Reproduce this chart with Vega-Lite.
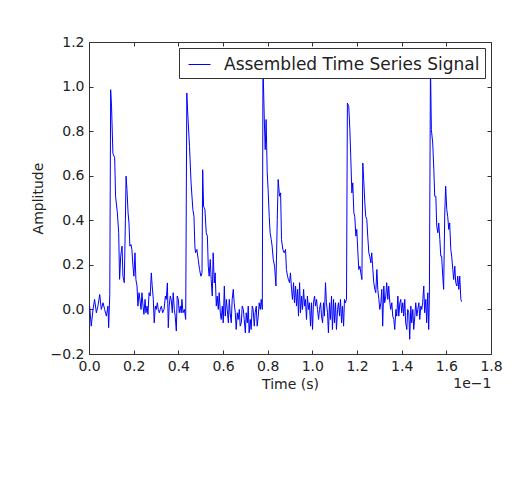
{
  "$schema": "https://vega.github.io/schema/vega-lite/v6.json",
  "width": 402,
  "height": 312,
  "autosize": {"type": "none"},
  "padding": {"left": 89, "top": 42, "right": 33, "bottom": 137},
  "background": "white",
  "config": {
    "view": {"stroke": "#333", "strokeWidth": 1},
    "font": "DejaVu Sans",
    "axis": {"grid": false, "domain": false, "labelFont": "DejaVu Sans", "titleFont": "DejaVu Sans", "labelColor": "#222", "titleColor": "#222", "tickColor": "#333", "titleFontWeight": "normal", "labelFontSize": 14, "titleFontSize": 14},
    "legend": {"orient": "top-right", "offset": 6, "fillColor": "white", "strokeColor": "#333", "strokeWidth": 1, "padding": 5, "labelFont": "DejaVu Sans", "labelFontSize": 17, "labelLimit": 0, "labelColor": "#222", "symbolType": "stroke", "symbolSize": 484, "symbolStrokeWidth": 1, "symbolOffset": 4, "labelOffset": 13, "cornerRadius": 0}
  },
  "data": {"values": [
    {"t":0.003,"amplitude":0.015},{"t":0.010,"amplitude":-0.075},{"t":0.018,"amplitude":0.0},{"t":0.025,"amplitude":0.045},{"t":0.033,"amplitude":-0.015},{"t":0.040,"amplitude":0.015},{"t":0.048,"amplitude":0.067},{"t":0.055,"amplitude":0.0},{"t":0.063,"amplitude":0.03},{"t":0.070,"amplitude":0.0},{"t":0.078,"amplitude":-0.03},{"t":0.085,"amplitude":0.015},{"t":0.088,"amplitude":-0.082},{"t":0.093,"amplitude":0.067},
    {"t":0.097,"amplitude":0.986},{"t":0.101,"amplitude":0.909},{"t":0.107,"amplitude":0.70},{"t":0.115,"amplitude":0.68},{"t":0.119,"amplitude":0.508},{"t":0.127,"amplitude":0.433},{"t":0.133,"amplitude":0.344},{"t":0.137,"amplitude":0.135},{"t":0.142,"amplitude":0.239},{"t":0.148,"amplitude":0.284},{"t":0.152,"amplitude":0.149},{"t":0.158,"amplitude":0.12},{"t":0.163,"amplitude":0.403},{"t":0.166,"amplitude":0.598},{"t":0.170,"amplitude":0.538},{"t":0.175,"amplitude":0.433},{"t":0.179,"amplitude":0.388},{"t":0.183,"amplitude":0.284},{"t":0.188,"amplitude":0.291},{"t":0.192,"amplitude":0.269},{"t":0.197,"amplitude":0.194},{"t":0.201,"amplitude":0.149},{"t":0.206,"amplitude":0.254},{"t":0.210,"amplitude":0.134},{"t":0.215,"amplitude":0.105},{"t":0.219,"amplitude":0.015},{"t":0.224,"amplitude":0.075},{"t":0.228,"amplitude":0.045},{"t":0.233,"amplitude":0.0},{"t":0.237,"amplitude":0.075},{"t":0.242,"amplitude":0.015},{"t":0.246,"amplitude":-0.022},{"t":0.251,"amplitude":0.045},{"t":0.255,"amplitude":-0.015},{"t":0.260,"amplitude":0.015},{"t":0.264,"amplitude":-0.022},{"t":0.269,"amplitude":0.075},{"t":0.274,"amplitude":0.06},{"t":0.279,"amplitude":0.164},{"t":0.283,"amplitude":0.105},{"t":0.288,"amplitude":0.045},{"t":0.292,"amplitude":-0.06},{"t":0.297,"amplitude":0.015},{"t":0.301,"amplitude":0.0},{"t":0.306,"amplitude":0.03},{"t":0.310,"amplitude":0.0},{"t":0.315,"amplitude":-0.015},{"t":0.319,"amplitude":0.0},{"t":0.324,"amplitude":0.015},{"t":0.330,"amplitude":-0.015},{"t":0.336,"amplitude":0.0},{"t":0.342,"amplitude":0.06},{"t":0.346,"amplitude":0.045},{"t":0.351,"amplitude":0.119},{"t":0.355,"amplitude":-0.082},{"t":0.359,"amplitude":0.015},{"t":0.364,"amplitude":0.06},{"t":0.368,"amplitude":0.045},{"t":0.373,"amplitude":-0.015},{"t":0.377,"amplitude":0.075},{"t":0.382,"amplitude":0.0},{"t":0.386,"amplitude":-0.03},{"t":0.391,"amplitude":-0.097},{"t":0.395,"amplitude":0.06},{"t":0.400,"amplitude":0.045},{"t":0.404,"amplitude":-0.015},{"t":0.409,"amplitude":0.015},{"t":0.413,"amplitude":-0.015},{"t":0.416,"amplitude":0.045},{"t":0.421,"amplitude":-0.015},{"t":0.427,"amplitude":0.0},{"t":0.433,"amplitude":-0.045},
    {"t":0.438,"amplitude":0.971},{"t":0.442,"amplitude":0.881},{"t":0.450,"amplitude":0.732},{"t":0.457,"amplitude":0.568},{"t":0.465,"amplitude":0.448},{"t":0.470,"amplitude":0.418},{"t":0.474,"amplitude":0.284},{"t":0.477,"amplitude":0.254},{"t":0.483,"amplitude":0.269},{"t":0.489,"amplitude":0.224},{"t":0.495,"amplitude":0.179},{"t":0.501,"amplitude":0.149},{"t":0.506,"amplitude":0.164},{"t":0.509,"amplitude":0.627},{"t":0.513,"amplitude":0.463},{"t":0.519,"amplitude":0.448},{"t":0.525,"amplitude":0.344},{"t":0.530,"amplitude":0.329},{"t":0.534,"amplitude":0.194},{"t":0.538,"amplitude":0.149},{"t":0.543,"amplitude":0.224},{"t":0.547,"amplitude":0.134},{"t":0.552,"amplitude":0.06},{"t":0.556,"amplitude":0.254},{"t":0.561,"amplitude":0.119},{"t":0.565,"amplitude":0.164},{"t":0.570,"amplitude":0.015},{"t":0.574,"amplitude":0.06},{"t":0.579,"amplitude":0.0},{"t":0.583,"amplitude":0.075},{"t":0.588,"amplitude":-0.015},{"t":0.592,"amplitude":-0.045},{"t":0.597,"amplitude":0.015},{"t":0.601,"amplitude":-0.06},{"t":0.606,"amplitude":0.105},{"t":0.610,"amplitude":-0.03},{"t":0.615,"amplitude":0.045},{"t":0.619,"amplitude":0.0},{"t":0.624,"amplitude":-0.06},{"t":0.628,"amplitude":0.045},{"t":0.632,"amplitude":-0.015},{"t":0.637,"amplitude":-0.06},{"t":0.641,"amplitude":0.045},{"t":0.646,"amplitude":0.09},{"t":0.650,"amplitude":0.03},{"t":0.655,"amplitude":-0.015},{"t":0.659,"amplitude":-0.09},{"t":0.664,"amplitude":-0.015},{"t":0.668,"amplitude":-0.045},{"t":0.673,"amplitude":0.0},{"t":0.677,"amplitude":-0.075},{"t":0.682,"amplitude":-0.06},{"t":0.686,"amplitude":0.015},{"t":0.691,"amplitude":0.0},{"t":0.695,"amplitude":-0.045},{"t":0.700,"amplitude":-0.105},{"t":0.704,"amplitude":-0.015},{"t":0.709,"amplitude":-0.06},{"t":0.713,"amplitude":0.015},{"t":0.717,"amplitude":-0.105},{"t":0.722,"amplitude":-0.045},{"t":0.726,"amplitude":-0.09},{"t":0.731,"amplitude":0.015},{"t":0.735,"amplitude":0.0},{"t":0.740,"amplitude":-0.075},{"t":0.744,"amplitude":-0.015},{"t":0.749,"amplitude":0.015},{"t":0.753,"amplitude":-0.075},{"t":0.758,"amplitude":-0.03},{"t":0.762,"amplitude":0.03},{"t":0.767,"amplitude":0.0},{"t":0.771,"amplitude":0.045},{"t":0.776,"amplitude":0.0},
    {"t":0.779,"amplitude":1.1},{"t":0.785,"amplitude":0.85},{"t":0.789,"amplitude":0.717},{"t":0.793,"amplitude":0.852},{"t":0.798,"amplitude":0.613},{"t":0.802,"amplitude":0.538},{"t":0.807,"amplitude":0.418},{"t":0.811,"amplitude":0.344},{"t":0.816,"amplitude":0.314},{"t":0.820,"amplitude":0.284},{"t":0.825,"amplitude":0.224},{"t":0.831,"amplitude":0.194},{"t":0.837,"amplitude":0.105},{"t":0.843,"amplitude":0.403},{"t":0.847,"amplitude":0.583},{"t":0.853,"amplitude":0.508},{"t":0.858,"amplitude":0.523},{"t":0.862,"amplitude":0.314},{"t":0.868,"amplitude":0.269},{"t":0.874,"amplitude":0.254},{"t":0.880,"amplitude":0.269},{"t":0.884,"amplitude":0.179},{"t":0.889,"amplitude":0.149},{"t":0.893,"amplitude":0.134},{"t":0.898,"amplitude":0.12},{"t":0.902,"amplitude":0.164},{"t":0.907,"amplitude":0.09},{"t":0.911,"amplitude":0.045},{"t":0.916,"amplitude":0.12},{"t":0.920,"amplitude":0.03},{"t":0.925,"amplitude":0.105},{"t":0.929,"amplitude":0.015},{"t":0.934,"amplitude":0.09},{"t":0.938,"amplitude":-0.03},{"t":0.943,"amplitude":0.12},{"t":0.947,"amplitude":-0.015},{"t":0.952,"amplitude":0.06},{"t":0.956,"amplitude":0.0},{"t":0.961,"amplitude":0.09},{"t":0.965,"amplitude":0.015},{"t":0.969,"amplitude":0.045},{"t":0.974,"amplitude":-0.045},{"t":0.978,"amplitude":0.06},{"t":0.983,"amplitude":0.0},{"t":0.987,"amplitude":0.03},{"t":0.992,"amplitude":-0.075},{"t":0.996,"amplitude":0.03},{"t":1.001,"amplitude":-0.09},{"t":1.005,"amplitude":0.03},{"t":1.010,"amplitude":0.06},{"t":1.014,"amplitude":0.015},{"t":1.019,"amplitude":0.045},{"t":1.023,"amplitude":0.0},{"t":1.028,"amplitude":-0.045},{"t":1.032,"amplitude":0.0},{"t":1.037,"amplitude":0.03},{"t":1.041,"amplitude":-0.03},{"t":1.046,"amplitude":-0.06},{"t":1.050,"amplitude":0.03},{"t":1.054,"amplitude":-0.03},{"t":1.059,"amplitude":0.12},{"t":1.063,"amplitude":0.03},{"t":1.068,"amplitude":-0.015},{"t":1.072,"amplitude":-0.105},{"t":1.077,"amplitude":0.03},{"t":1.081,"amplitude":-0.045},{"t":1.086,"amplitude":0.06},{"t":1.090,"amplitude":-0.09},{"t":1.095,"amplitude":0.045},{"t":1.099,"amplitude":-0.06},{"t":1.104,"amplitude":0.03},{"t":1.108,"amplitude":-0.09},{"t":1.113,"amplitude":0.0},{"t":1.117,"amplitude":0.03},{"t":1.122,"amplitude":-0.03},{"t":1.126,"amplitude":0.045},{"t":1.131,"amplitude":-0.06},{"t":1.135,"amplitude":0.015},{"t":1.140,"amplitude":-0.075},{"t":1.144,"amplitude":0.045},{"t":1.148,"amplitude":0.03},{"t":1.153,"amplitude":0.045},
    {"t":1.157,"amplitude":0.926},{"t":1.163,"amplitude":0.911},{"t":1.168,"amplitude":0.807},{"t":1.172,"amplitude":0.687},{"t":1.177,"amplitude":0.523},{"t":1.181,"amplitude":0.568},{"t":1.186,"amplitude":0.433},{"t":1.190,"amplitude":0.418},{"t":1.195,"amplitude":0.329},{"t":1.199,"amplitude":0.359},{"t":1.204,"amplitude":0.254},{"t":1.208,"amplitude":0.179},{"t":1.213,"amplitude":0.194},{"t":1.217,"amplitude":0.164},{"t":1.222,"amplitude":0.134},{"t":1.226,"amplitude":0.657},{"t":1.230,"amplitude":0.583},{"t":1.235,"amplitude":0.478},{"t":1.239,"amplitude":0.418},{"t":1.244,"amplitude":0.403},{"t":1.248,"amplitude":0.329},{"t":1.253,"amplitude":0.254},{"t":1.257,"amplitude":0.239},{"t":1.262,"amplitude":0.209},{"t":1.266,"amplitude":0.254},{"t":1.271,"amplitude":0.179},{"t":1.275,"amplitude":0.12},{"t":1.280,"amplitude":0.09},{"t":1.284,"amplitude":0.075},{"t":1.289,"amplitude":0.179},{"t":1.293,"amplitude":0.09},{"t":1.298,"amplitude":0.045},{"t":1.302,"amplitude":0.0},{"t":1.307,"amplitude":0.03},{"t":1.311,"amplitude":0.09},{"t":1.315,"amplitude":-0.075},{"t":1.320,"amplitude":0.105},{"t":1.324,"amplitude":0.03},{"t":1.329,"amplitude":0.06},{"t":1.333,"amplitude":0.12},{"t":1.338,"amplitude":0.045},{"t":1.342,"amplitude":0.105},{"t":1.347,"amplitude":0.03},{"t":1.351,"amplitude":0.0},{"t":1.356,"amplitude":0.03},{"t":1.360,"amplitude":-0.03},{"t":1.365,"amplitude":-0.045},{"t":1.369,"amplitude":-0.09},{"t":1.374,"amplitude":0.0},{"t":1.378,"amplitude":-0.03},{"t":1.383,"amplitude":0.06},{"t":1.387,"amplitude":-0.03},{"t":1.392,"amplitude":0.03},{"t":1.396,"amplitude":0.045},{"t":1.400,"amplitude":-0.015},{"t":1.405,"amplitude":0.03},{"t":1.409,"amplitude":-0.03},{"t":1.414,"amplitude":0.045},{"t":1.418,"amplitude":-0.06},{"t":1.423,"amplitude":-0.09},{"t":1.427,"amplitude":0.0},{"t":1.432,"amplitude":-0.015},{"t":1.436,"amplitude":-0.134},{"t":1.441,"amplitude":0.015},{"t":1.445,"amplitude":-0.06},{"t":1.450,"amplitude":0.0},{"t":1.454,"amplitude":-0.09},{"t":1.459,"amplitude":-0.03},{"t":1.463,"amplitude":0.03},{"t":1.468,"amplitude":-0.03},{"t":1.472,"amplitude":0.0},{"t":1.477,"amplitude":0.03},{"t":1.481,"amplitude":-0.045},{"t":1.486,"amplitude":0.015},{"t":1.490,"amplitude":0.0},{"t":1.494,"amplitude":0.03},{"t":1.499,"amplitude":0.105},{"t":1.503,"amplitude":-0.015},{"t":1.508,"amplitude":0.045},{"t":1.512,"amplitude":-0.06},{"t":1.517,"amplitude":0.075},{"t":1.521,"amplitude":-0.09},{"t":1.524,"amplitude":0.045},
    {"t":1.529,"amplitude":1.1},{"t":1.533,"amplitude":0.807},{"t":1.539,"amplitude":0.747},{"t":1.544,"amplitude":0.628},{"t":1.548,"amplitude":0.508},{"t":1.553,"amplitude":0.508},{"t":1.557,"amplitude":0.373},{"t":1.562,"amplitude":0.344},{"t":1.566,"amplitude":0.388},{"t":1.571,"amplitude":0.314},{"t":1.575,"amplitude":0.239},{"t":1.579,"amplitude":0.239},{"t":1.584,"amplitude":0.149},{"t":1.588,"amplitude":0.09},{"t":1.593,"amplitude":0.433},{"t":1.597,"amplitude":0.553},{"t":1.602,"amplitude":0.448},{"t":1.606,"amplitude":0.418},{"t":1.611,"amplitude":0.359},{"t":1.615,"amplitude":0.388},{"t":1.620,"amplitude":0.269},{"t":1.624,"amplitude":0.239},{"t":1.629,"amplitude":0.179},{"t":1.633,"amplitude":0.134},{"t":1.638,"amplitude":0.194},{"t":1.642,"amplitude":0.12},{"t":1.647,"amplitude":0.105},{"t":1.651,"amplitude":0.149},{"t":1.656,"amplitude":0.09},{"t":1.660,"amplitude":0.15},{"t":1.665,"amplitude":0.045},{"t":1.668,"amplitude":0.035}
  ]},
  "layer": [
    {
      "mark": {"type": "line", "color": "#0000ff", "strokeWidth": 1, "clip": true},
      "encoding": {
        "x": {"field": "t", "type": "quantitative", "scale": {"domain": [0, 1.8], "nice": false, "zero": false},
              "axis": {"orient": "bottom", "values": [0,0.2,0.4,0.6,0.8,1.0,1.2,1.4,1.6,1.8], "format": ".1f", "ticks": false, "labelPadding": 5, "labelFlush": false, "labelOverlap": false, "title": "Time (s)", "titlePadding": 4}},
        "y": {"field": "amplitude", "type": "quantitative", "scale": {"domain": [-0.2, 1.2], "nice": false, "zero": false},
              "axis": {"orient": "left", "values": [-0.2,0,0.2,0.4,0.6,0.8,1.0,1.2], "format": ".1f", "ticks": false, "labelPadding": 5, "labelOverlap": false, "title": "Amplitude", "titlePadding": 5}},
        "color": {"datum": "Assembled Time Series Signal", "type": "nominal", "scale": {"range": ["#0000ff"]}, "legend": {"title": null}}
      }
    },
    {
      "mark": {"type": "line", "strokeOpacity": 0},
      "encoding": {
        "x": {"field": "t", "type": "quantitative", "axis": {"orient": "top", "values": [0,0.2,0.4,0.6,0.8,1.0,1.2,1.4,1.6,1.8], "labels": false, "tickSize": -4, "title": null}},
        "y": {"field": "amplitude", "type": "quantitative", "axis": {"orient": "right", "values": [-0.2,0,0.2,0.4,0.6,0.8,1.0,1.2], "labels": false, "tickSize": -4, "title": null}}
      }
    },
    {
      "mark": {"type": "line", "strokeOpacity": 0},
      "encoding": {
        "x": {"field": "t", "type": "quantitative", "axis": {"orient": "bottom", "values": [0,0.2,0.4,0.6,0.8,1.0,1.2,1.4,1.6,1.8], "labels": false, "tickSize": -4, "title": "1e\u22121", "titleAnchor": "end", "titlePadding": 22}},
        "y": {"field": "amplitude", "type": "quantitative", "axis": {"orient": "left", "values": [-0.2,0,0.2,0.4,0.6,0.8,1.0,1.2], "labels": false, "tickSize": -4, "title": null}}
      }
    }
  ],
  "resolve": {"axis": {"x": "independent", "y": "independent"}}
}
